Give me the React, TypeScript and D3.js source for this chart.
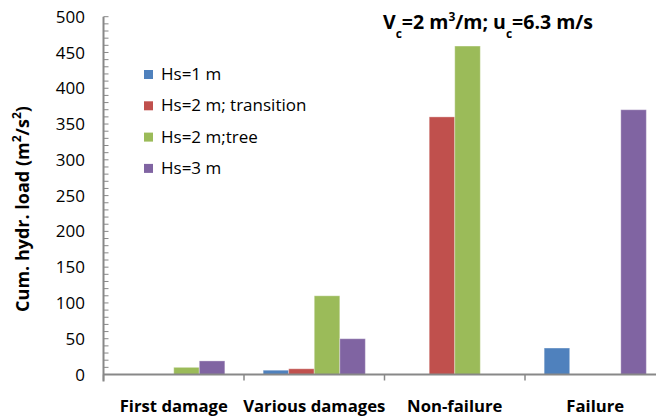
import React from "react";
import * as d3 from "d3";

const categories = ["First damage", "Various damages", "Non-failure", "Failure"];
const seriesNames = ["Hs=1 m", "Hs=2 m; transition", "Hs=2 m;tree", "Hs=3 m"];
const hs1 = [0, 6, 0, 37];
const hs2Transition = [0, 8, 360, 0];
const hs2Tree = [10, 110, 459, 0];
const hs3 = [19, 50, 0, 370];
const colors = ["#4F81BD", "#C0504D", "#9BBB59", "#8064A2"];
const yTicks = [0, 50, 100, 150, 200, 250, 300, 350, 400, 450, 500];

const W = 656;
const H = 419;
const axisColor = "#888888";
const font = "'Open Sans', sans-serif";

export default function App() {
  const seriesValues = [hs1, hs2Transition, hs2Tree, hs3];
  const x0 = d3.scaleBand<string>().domain(categories).range([103.5, 665.5]).paddingInner(0).paddingOuter(0);
  const x1 = d3.scaleBand<string>().domain(seriesNames).range([0, x0.bandwidth()]).paddingInner(0).paddingOuter(0.75);
  const y = d3.scaleLinear().domain([0, 500]).range([374.5, 16.7]);
  const minor = d3.range(0, 501, 10);
  const axisX = 103.5;
  const boundaries = categories.map((c) => x0(c) as number).concat([(x0(categories[3]) as number) + x0.bandwidth()]);

  return (
    <svg width={W} height={H} style={{ position: "absolute", left: 0, top: 0, background: "#fff" }}>
      <rect x={0} y={0} width={W} height={H} fill="#fff" />
      {seriesValues.map((vals, si) =>
        vals.map((v, ci) =>
          v > 0 ? (
            <rect
              key={`b${si}-${ci}`}
              x={(x0(categories[ci]) as number) + (x1(seriesNames[si]) as number)}
              y={y(v)}
              width={x1.bandwidth()}
              height={y(0) - y(v)}
              fill={colors[si]}
              stroke="rgba(255,255,255,0.35)"
              strokeWidth={1}
            />
          ) : null
        )
      )}
      <line x1={axisX} x2={axisX} y1={y(500)} y2={y(0) + 7} stroke={axisColor} strokeWidth={2} />
      {minor.map((t) => (
        <line key={`m${t}`} x1={axisX} x2={axisX + 5} y1={y(t)} y2={y(t)} stroke={axisColor} strokeWidth={1} />
      ))}
      {yTicks.map((t) => (
        <text
          key={`t${t}`}
          x={85}
          y={y(t) + 1.5}
          textAnchor="end"
          dominantBaseline="middle"
          fontFamily={font}
          fontSize={17}
          fill="#000"
        >
          {t}
        </text>
      ))}
      <line x1={axisX} x2={W} y1={y(0)} y2={y(0)} stroke={axisColor} strokeWidth={2} />
      {boundaries.map((b, i) => (
        <line key={`xt${i}`} x1={b} x2={b} y1={y(0)} y2={y(0) + 6} stroke={axisColor} strokeWidth={1.5} />
      ))}
      {categories.map((c) => (
        <text
          key={`c${c}`}
          x={(x0(c) as number) + x0.bandwidth() / 2}
          y={412}
          textAnchor="middle"
          fontFamily={font}
          fontWeight="bold"
          fontSize={16.7}
          fill="#000"
        >
          {c}
        </text>
      ))}
      <text
        transform={`translate(29,209) rotate(-90)`}
        textAnchor="middle"
        fontFamily={font}
        fontWeight="bold"
        fontSize={18}
        fill="#000"
      >
        Cum. hydr. load (m<tspan baselineShift="super" fontSize={12}>2</tspan>/s<tspan baselineShift="super" fontSize={12}>2</tspan>)
      </text>
      <text x={383} y={29} fontFamily={font} fontWeight="bold" fontSize={19.5} fill="#000">
        V<tspan baselineShift="sub" fontSize={12}>c</tspan>=2 m<tspan baselineShift="super" fontSize={12}>3</tspan>/m; u<tspan baselineShift="sub" fontSize={12}>c</tspan>=6.3 m/s
      </text>
      {seriesNames.map((s, i) => (
        <g key={`l${s}`} transform={`translate(144, ${74.5 + i * 31.3})`}>
          <rect x={0} y={-4.5} width={9} height={9} fill={colors[i]} />
          <text x={17} y={1} dominantBaseline="middle" fontFamily={font} fontSize={17} fill="#000">
            {s}
          </text>
        </g>
      ))}
    </svg>
  );
}
